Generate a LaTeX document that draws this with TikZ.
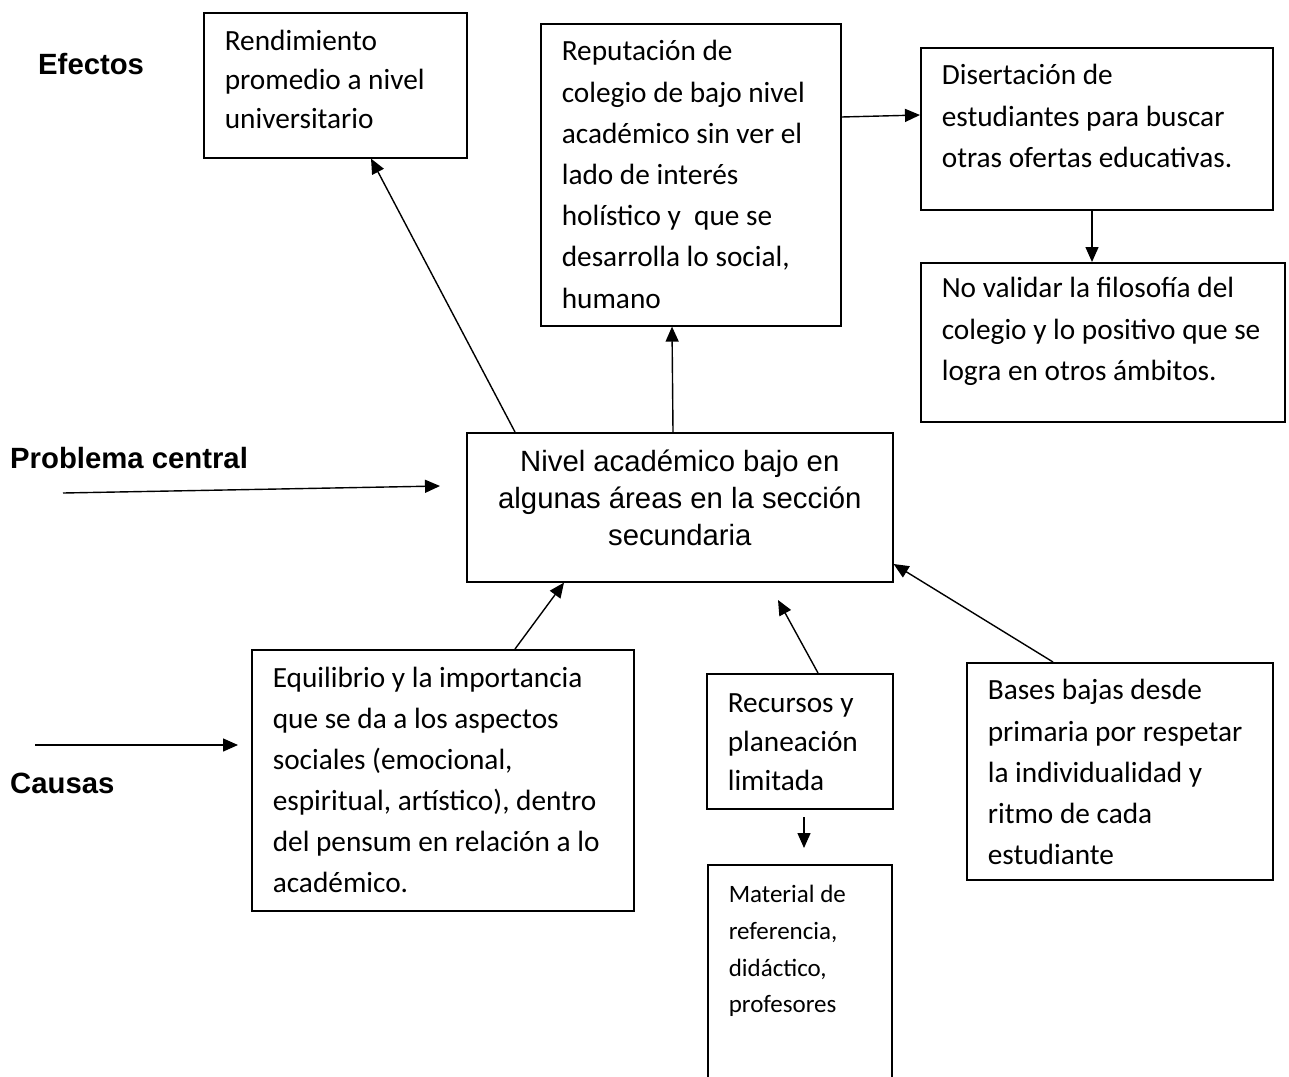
\documentclass[tikz,border=0pt]{standalone}
\usepackage{fontspec}
\setmainfont{Carlito}
\newfontfamily\arial{Liberation Sans}
\usetikzlibrary{arrows.meta}
\newcommand{\tbox}[5]{\parbox[c][#2][t]{#1}{\raggedright\setlength{\leftskip}{21pt}\setlength{\rightskip}{-300pt plus 1fil}\fontsize{29.3pt}{#4}\selectfont\rule{0pt}{#3}#5}}
\begin{document}
\begin{tikzpicture}[x=1pt,y=-1pt,
  box/.style={draw, line width=1.6pt, inner sep=0pt, anchor=north west},
  arr/.style={line width=1.4pt, -{Triangle[length=15pt,width=13pt]}},
  lbl/.style={anchor=base west, inner sep=0pt, font=\arial\bfseries\fontsize{29.3pt}{35pt}\selectfont}]
\useasboundingbox (0,0) rectangle (1289,1076);

% labels
\node[lbl] (efectos) at (38,74) {Efectos};
\node[lbl] (problema) at (10,468) {Problema central};
\node[lbl] (causas) at (10,793) {Causas};

% effect boxes
\node[box] (rend) at (203,12) {\tbox{263pt}{145pt}{38pt}{39pt}{Rendimiento\\promedio a nivel\\universitario}};
\node[box] (rep) at (540,23) {\tbox{300pt}{302pt}{37pt}{41.2pt}{Reputación de\\colegio de bajo nivel\\académico sin ver el\\lado de interés\\holístico y\ \ que se\\desarrolla lo social,\\humano}};
\node[box] (dis) at (920,47) {\tbox{352pt}{162pt}{37pt}{41.5pt}{Disertación de\\estudiantes para buscar\\otras ofertas educativas.}};
\node[box] (nov) at (920,262) {\tbox{364pt}{159pt}{35pt}{41.5pt}{No validar la filosofía del\\colegio y lo positivo que se\\logra en otros ámbitos.}};

% central problem
\node[box] (central) at (466,432) {\parbox[c][149pt][t]{426pt}{\centering\arial\fontsize{29.3pt}{37pt}\selectfont\rule{0pt}{39pt}Nivel académico bajo en\\algunas áreas en la sección\\secundaria}};

% cause boxes
\node[box] (eq) at (251,649) {\tbox{382pt}{261pt}{38pt}{41pt}{Equilibrio y la importancia\\que se da a los aspectos\\sociales (emocional,\\espiritual, artístico), dentro\\del pensum en relación a lo\\académico.}};
\node[box] (rec) at (706,673) {\tbox{186pt}{135pt}{39pt}{39pt}{Recursos y\\planeación\\limitada}};
\node[box] (bases) at (966,662) {\tbox{306pt}{217pt}{37pt}{41.25pt}{Bases bajas desde\\primaria por respetar\\la individualidad y\\ritmo de cada\\estudiante}};
\node[box] (mat) at (707,864) {\parbox[c][230pt][t]{184pt}{\raggedright\setlength{\leftskip}{21pt}\setlength{\rightskip}{-300pt plus 1fil}\fontsize{25pt}{36.7pt}\selectfont\rule{0pt}{38pt}Material de\\referencia,\\didáctico,\\profesores}};

% free ends
\coordinate (pstart) at (63,493);
\coordinate (pend) at (440,486);
\coordinate (cstart) at (35,745);
\coordinate (cend) at (238,745);
\coordinate (rtip) at (778,600);
\coordinate (mstart) at (804,817);
\coordinate (mend) at (804,848);

% connectors
\draw[arr] (central.north -| 515,0) -- (rend.south -| 371,0);
\draw[arr] (central.north -| 673,0) -- (rep.south -| 672,0);
\draw[arr] (rep.east |- 0,117) -- (dis.west |- 0,115);
\draw[arr] (dis.south -| 1092,0) -- (nov.north -| 1092,0);
\draw[arr] (pstart) -- (pend);
\draw[arr] (cstart) -- (cend);
\draw[arr] (eq.north -| 515,0) -- (central.south -| 564,0);
\draw[arr] (rec.north -| 818,0) -- (rtip);
\draw[arr] (bases.north -| 1053,0) -- (central.east |- 0,564);
\draw[arr] (mstart) -- (mend);
\end{tikzpicture}
\end{document}
